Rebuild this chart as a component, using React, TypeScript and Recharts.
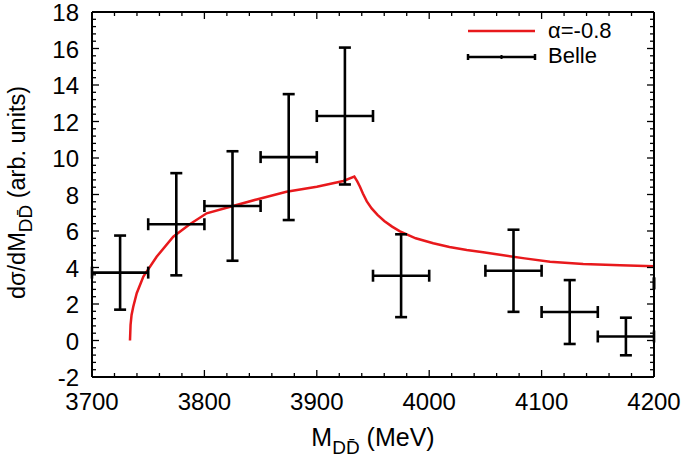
import { ComposedChart, Line, Scatter, ErrorBar, XAxis, YAxis, Legend } from 'recharts'

document.body.style.margin = '0'

// Belle data points (MeV, arb. units) with symmetric errors
const belleMass = [3725, 3775, 3825, 3875, 3925, 3975, 4075, 4125, 4175]
const belleValue = [3.72, 6.37, 7.37, 10.05, 12.3, 3.55, 3.82, 1.56, 0.22]
const belleYErr = [2.03, 2.8, 3.0, 3.45, 3.75, 2.27, 2.25, 1.75, 1.03]
const belleXErr = [25, 25, 25, 25, 25, 25, 25, 25, 25]

// next bin lies past the right edge: only the end of its x error bar shows at 4200
const edgeMass = [4225]
const edgeValue = [3.13]
const edgeXErr = [[25, -25]]

// model curve, alpha = -0.8
const curveMass = [3733.8, 3734.3, 3735.2, 3736.7, 3739.8, 3745.7, 3757.5, 3772.3, 3787, 3802, 3823, 3846.5, 3873, 3900, 3923.6, 3933.4, 3936, 3938.4, 3941, 3944.5, 3948.8, 3954, 3960, 3967, 3974, 3988, 4003.6, 4018, 4033.4, 4048, 4063, 4085, 4107.5, 4137, 4170, 4200]
const curveValue = [0, 0.85, 1.4, 1.85, 2.59, 3.5, 4.59, 5.69, 6.37, 6.97, 7.33, 7.73, 8.15, 8.43, 8.74, 8.98, 8.72, 8.43, 8.05, 7.62, 7.24, 6.88, 6.55, 6.24, 5.98, 5.6, 5.33, 5.12, 4.96, 4.83, 4.7, 4.5, 4.32, 4.19, 4.12, 4.07]

const xMajorTicks = [3700, 3800, 3900, 4000, 4100, 4200]
const yMajorTicks = [-2, 0, 2, 4, 6, 8, 10, 12, 14, 16, 18]

const minorOf = (majors: number[], n: number) => {
    const out: number[] = []
    for (let i = 0; i < majors.length - 1; i++) {
        const step = (majors[i + 1] - majors[i]) / n
        for (let k = 0; k < n; k++) out.push(+(majors[i] + k * step).toFixed(3))
    }
    out.push(majors[majors.length - 1])
    return out
}
const xTicks = minorOf(xMajorTicks, 5)
const yTicks = minorOf(yMajorTicks, 5)

const belle = belleMass.map((m, i) => ({ x: m, y: belleValue[i], ex: belleXErr[i], ey: belleYErr[i] }))
const edge = edgeMass.map((m, i) => ({ x: m, y: edgeValue[i], ex: edgeXErr[i] }))
const curve = curveMass.map((m, i) => ({ x: m, y: curveValue[i] }))

const FONT = '"Liberation Sans", Arial, Helvetica, sans-serif'
const MAJOR = 7
const MINOR = 4

const isMajor = (v: number, majors: number[]) => majors.some(m => Math.abs(m - v) < 1e-6)

const BottomTick = (props: any) => {
    const { x, y, payload } = props
    const major = isMajor(payload.value, xMajorTicks)
    return (
        <g>
            <line x1={x} x2={x} y1={y} y2={y - (major ? MAJOR : MINOR)} stroke="#000" strokeWidth={1.3} />
            {major && <text x={x} y={y + 33} textAnchor="middle" fontSize={24} fontFamily={FONT} fill="#000">{payload.value}</text>}
        </g>
    )
}

const TopTick = (props: any) => {
    const { x, y, payload } = props
    const major = isMajor(payload.value, xMajorTicks)
    return <line x1={x} x2={x} y1={y} y2={y + (major ? MAJOR : MINOR)} stroke="#000" strokeWidth={1.3} />
}

const LeftTick = (props: any) => {
    const { x, y, payload } = props
    const major = isMajor(payload.value, yMajorTicks)
    return (
        <g>
            <line x1={x} x2={x + (major ? MAJOR : MINOR)} y1={y} y2={y} stroke="#000" strokeWidth={1.3} />
            {major && <text x={x - 13} y={y + 9} textAnchor="end" fontSize={24} fontFamily={FONT} fill="#000">{payload.value}</text>}
        </g>
    )
}

const RightTick = (props: any) => {
    const { x, y, payload } = props
    const major = isMajor(payload.value, yMajorTicks)
    return <line x1={x} x2={x - (major ? MAJOR : MINOR)} y1={y} y2={y} stroke="#000" strokeWidth={1.3} />
}

const XLabel = (props: any) => {
    const { viewBox } = props
    const cx = viewBox.x + viewBox.width / 2
    const cy = viewBox.y + 69
    return (
        <text x={cx} y={cy} textAnchor="middle" fontSize={25} fontFamily={FONT} fill="#000">
            M<tspan dy={8} fontSize={19}>{'D\u0044\u0304'}</tspan><tspan dy={-8}> (MeV)</tspan>
        </text>
    )
}

const YLabel = (props: any) => {
    const { viewBox } = props
    const cx = viewBox.x + viewBox.width - 67
    const cy = viewBox.y + viewBox.height / 2 - 2
    return (
        <text x={cx} y={cy} transform={`rotate(-90, ${cx}, ${cy})`} textAnchor="middle" fontSize={23.5} fontFamily={FONT} fill="#000">
            dσ/dM<tspan dy={7} fontSize={19}>{'D\u0044\u0304'}</tspan><tspan dy={-7}> (arb. units)</tspan>
        </text>
    )
}

const LegendBox = () => (
    <svg width={200} height={60}>
        <line x1={6} x2={73} y1={15} y2={15} stroke="#e8191c" strokeWidth={2.5} />
        <text x={86} y={22} fontSize={22} fontFamily={FONT} fill="#000">α=-0.8</text>
        <line x1={6} x2={73} y1={41} y2={41} stroke="#000" strokeWidth={2.5} />
        <line x1={6} x2={6} y1={38} y2={44} stroke="#000" strokeWidth={2.5} />
        <line x1={73} x2={73} y1={38} y2={44} stroke="#000" strokeWidth={2.5} />
        <line x1={39.5} x2={39.5} y1={39} y2={43} stroke="#000" strokeWidth={2} />
        <text x={86} y={47} fontSize={22} fontFamily={FONT} fill="#000">Belle</text>
    </svg>
)

export default function App() {
    return (
        <div style={{ width: 685, height: 461, background: '#fff' }}>
            <ComposedChart width={685} height={461} margin={{ top: 11, right: 30, bottom: 83, left: 91 }}>
                <XAxis xAxisId={0} type="number" dataKey="x" domain={[3700, 4200]} allowDataOverflow ticks={xTicks} interval={0}
                    height={1} tickSize={0} tickMargin={0} tickLine={false} tick={<BottomTick />}
                    axisLine={{ stroke: '#000', strokeWidth: 2 }} label={{ content: <XLabel /> }} />
                <XAxis xAxisId="top" orientation="top" type="number" dataKey="x" domain={[3700, 4200]} allowDataOverflow ticks={xTicks} interval={0}
                    height={1} tickSize={0} tickMargin={0} tickLine={false} tick={<TopTick />}
                    axisLine={{ stroke: '#000', strokeWidth: 2 }} />
                <YAxis yAxisId={0} type="number" domain={[-2, 18]} allowDataOverflow ticks={yTicks} interval={0}
                    width={1} tickSize={0} tickMargin={0} tickLine={false} tick={<LeftTick />}
                    axisLine={{ stroke: '#000', strokeWidth: 2 }} label={{ content: <YLabel /> }} />
                <YAxis yAxisId="right" orientation="right" type="number" domain={[-2, 18]} allowDataOverflow ticks={yTicks} interval={0}
                    width={1} tickSize={0} tickMargin={0} tickLine={false} tick={<RightTick />}
                    axisLine={{ stroke: '#000', strokeWidth: 2 }} />
                <Legend layout="vertical" align="center" verticalAlign="middle" content={<LegendBox />}
                    wrapperStyle={{ top: 16, left: 462, width: 200, height: 60 }} />
                <Line data={curve} dataKey="y" name="α=-0.8" type="linear" stroke="#e8191c" strokeWidth={2.5}
                    dot={false} activeDot={false} isAnimationActive={false} />
                <Scatter data={belle} dataKey="y" name="Belle" shape={() => <g />} isAnimationActive={false}>
                    <ErrorBar dataKey="ex" direction="x" stroke="#000" strokeWidth={2.6} width={6} isAnimationActive={false} />
                    <ErrorBar dataKey="ey" direction="y" stroke="#000" strokeWidth={2.6} width={6} isAnimationActive={false} />
                </Scatter>
                <Scatter data={edge} dataKey="y" name="Belle (edge)" legendType="none" shape={() => <g />} isAnimationActive={false}>
                    <ErrorBar dataKey="ex" direction="x" stroke="#000" strokeWidth={2.6} width={6} isAnimationActive={false} />
                </Scatter>
            </ComposedChart>
        </div>
    )
}
